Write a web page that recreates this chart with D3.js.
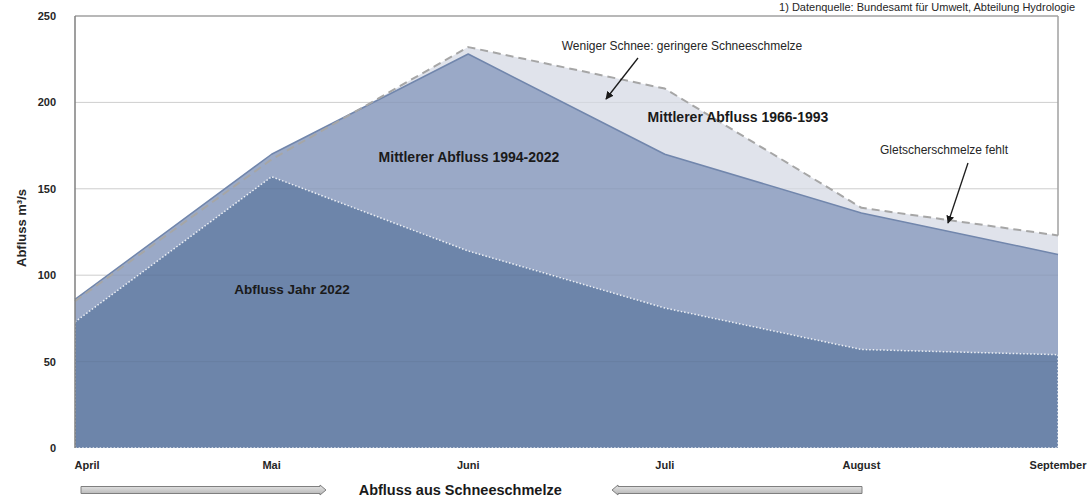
<!DOCTYPE html>
<html><head><meta charset="utf-8">
<script src="https://cdn.jsdelivr.net/npm/d3@7"></script>
<style>
html,body{margin:0;padding:0;background:#fff;}
text{font-family:"Liberation Sans",Arial,sans-serif;}
</style></head>
<body>
<svg id="c" width="1088" height="498"></svg>
<script>
const months = ["April","Mai","Juni","Juli","August","September"];
const abfluss1966_1993 = [85, 167, 232, 208, 139, 123];
const abfluss1994_2022 = [86, 170, 228, 170, 136, 112];
const abfluss2022 = [73, 157, 114, 81, 57, 54];
const yTicks = [0, 50, 100, 150, 200, 250];

const svg = d3.select("#c");
const x = d3.scalePoint().domain(months).range([75, 1058]);
const y = d3.scaleLinear().domain([0, 250]).range([448, 16]);
const curve = d3.curveLinear;

const area = (vals) => d3.area()
  .x((d, i) => x(months[i])).y0(y(0)).y1(d => y(d)).curve(curve)(vals);
const line = (vals) => d3.line()
  .x((d, i) => x(months[i])).y(d => y(d)).curve(curve)(vals);

const grid = yTicks.filter(t => t > 0 && t < 250);
// gridlines (behind)
svg.append("g").selectAll("line").data(grid).join("line")
  .attr("x1", x("April")).attr("x2", x("September"))
  .attr("y1", d => y(d)).attr("y2", d => y(d))
  .attr("stroke", "#d9d9d9").attr("stroke-width", 1);

// areas
svg.append("path").attr("d", area(abfluss1966_1993))
  .attr("fill", "#dee1ea").attr("fill-opacity", 0.93);
svg.append("path").attr("d", area(abfluss1994_2022))
  .attr("fill", "#97a7c5").attr("fill-opacity", 0.96);
svg.append("path").attr("d", area(abfluss2022))
  .attr("fill", "#6b84a9").attr("fill-opacity", 0.97);

// faint gridlines over areas
svg.append("g").selectAll("line").data(grid).join("line")
  .attr("x1", x("April")).attr("x2", x("September"))
  .attr("y1", d => y(d)).attr("y2", d => y(d))
  .attr("stroke", "#000").attr("stroke-opacity", 0.05).attr("stroke-width", 1);

// outlines
svg.append("path").attr("d", line(abfluss1994_2022))
  .attr("fill", "none").attr("stroke", "#7186ac").attr("stroke-width", 1.5)
  .attr("stroke-linejoin", "round");
svg.append("path").attr("d", line(abfluss1966_1993))
  .attr("fill", "none").attr("stroke", "#a6a6a6").attr("stroke-width", 2)
  .attr("stroke-dasharray", "8,5").attr("stroke-linejoin", "round");
svg.append("path").attr("d", area(abfluss2022))
  .attr("fill", "none").attr("stroke", "#ffffff").attr("stroke-width", 1.5)
  .attr("stroke-dasharray", "1.5,2").attr("stroke-opacity", 0.85);

// frame
svg.append("line").attr("x1", x("April")).attr("x2", x("September"))
  .attr("y1", y(250)).attr("y2", y(250)).attr("stroke", "#a0a0a0").attr("stroke-width", 1.5);
svg.append("line").attr("x1", x("September")).attr("x2", x("September"))
  .attr("y1", y(250)).attr("y2", y(abfluss1966_1993[5])).attr("stroke", "#a0a0a0").attr("stroke-width", 1.5);
svg.append("line").attr("x1", x("April")).attr("x2", x("April"))
  .attr("y1", y(250)).attr("y2", y(0)).attr("stroke", "#7f7f7f").attr("stroke-width", 1.5);

// y tick labels
svg.append("g").selectAll("text").data(yTicks).join("text")
  .attr("x", 56).attr("y", d => y(d) + 4)
  .attr("text-anchor", "end").attr("font-size", 11).attr("font-weight", "bold")
  .attr("fill", "#262626").text(d => d);

// x tick labels
svg.append("g").selectAll("text").data(months).join("text")
  .attr("x", d => x(d) + (d === "April" ? 12 : 0)).attr("y", 469)
  .attr("text-anchor", "middle").attr("font-size", 11).attr("font-weight", "bold")
  .attr("fill", "#262626").text(d => d);

// y axis title
svg.append("text").attr("transform", "translate(26,228) rotate(-90)")
  .attr("text-anchor", "middle").attr("font-size", 13).attr("font-weight", "bold")
  .attr("fill", "#262626").text("Abfluss m³/s");

// source note
svg.append("text").attr("x", 1075).attr("y", 11).attr("text-anchor", "end")
  .attr("font-size", 11).attr("fill", "#262626")
  .text("1) Datenquelle: Bundesamt für Umwelt, Abteilung Hydrologie");

// series labels
const lbl = (t, cx, cy, size, bold) => svg.append("text").attr("x", cx).attr("y", cy)
  .attr("text-anchor", "middle").attr("font-size", size).attr("font-weight", bold ? "bold" : "normal")
  .attr("fill", bold ? "#1a1a1a" : "#262626").text(t);
lbl("Mittlerer Abfluss 1966-1993", 738, 122, 14, true);
lbl("Mittlerer Abfluss 1994-2022", 469, 162, 14, true);
lbl("Abfluss Jahr 2022", 292, 294, 13.5, true);
lbl("Weniger Schnee: geringere Schneeschmelze", 682, 50, 12, false);
lbl("Gletscherschmelze fehlt", 944, 154, 12, false);

// annotation arrows
const defs = svg.append("defs");
defs.append("marker").attr("id", "ah").attr("viewBox", "0 0 10 10").attr("refX", 9).attr("refY", 5)
  .attr("markerWidth", 8).attr("markerHeight", 8).attr("markerUnits", "userSpaceOnUse")
  .attr("orient", "auto")
  .append("path").attr("d", "M0,0 L10,5 L0,10 Z").attr("fill", "#1a1a1a");
svg.append("line").attr("x1", 638).attr("y1", 58).attr("x2", 606).attr("y2", 99)
  .attr("stroke", "#1a1a1a").attr("stroke-width", 1.3).attr("marker-end", "url(#ah)");
svg.append("line").attr("x1", 968).attr("y1", 163).attr("x2", 948).attr("y2", 223)
  .attr("stroke", "#1a1a1a").attr("stroke-width", 1.3).attr("marker-end", "url(#ah)");

// bottom block arrows
const grad = defs.append("linearGradient").attr("id", "g").attr("x1", 0).attr("x2", 0).attr("y1", 0).attr("y2", 1);
grad.append("stop").attr("offset", "0%").attr("stop-color", "#e6e6e6");
grad.append("stop").attr("offset", "100%").attr("stop-color", "#b4b4b4");
function blockArrow(x0, x1, cy) {
  const dir = Math.sign(x1 - x0), h = 3.5, hh = 5, hl = 6;
  const xb = x1 - dir * hl;
  const p = `M${x0},${cy - h} L${xb},${cy - h} L${xb},${cy - hh} L${x1},${cy} L${xb},${cy + hh} L${xb},${cy + h} L${x0},${cy + h} Z`;
  svg.append("path").attr("d", p).attr("fill", "url(#g)").attr("stroke", "#7f7f7f").attr("stroke-width", 1);
}
blockArrow(81, 326, 490);
blockArrow(862, 612, 490);
svg.append("text").attr("x", x("Juni") - 8).attr("y", 495).attr("text-anchor", "middle")
  .attr("font-size", 14.5).attr("font-weight", "bold").attr("fill", "#1a1a1a")
  .text("Abfluss aus Schneeschmelze");
</script>
</body></html>
